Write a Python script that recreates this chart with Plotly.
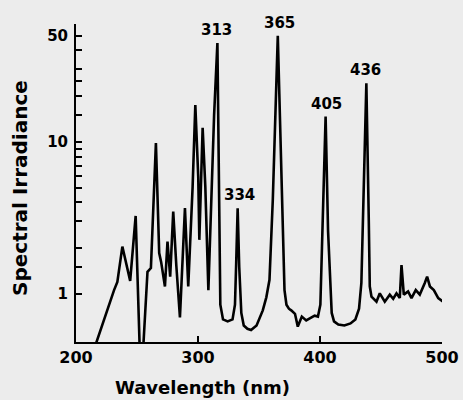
import plotly.graph_objects as go
import math

# Wavelength (nm) and spectral irradiance
wavelength = [215.0, 216.7, 231.2, 233.9, 238.0, 244.4, 248.9, 252.6, 254.4, 258.6,
              261.4, 265.5, 268.2, 269.8, 272.9, 275.0, 277.2, 279.7, 282.2, 285.2,
              289.3, 292.0, 295.6, 297.8, 300.2, 301.1, 303.8, 306.0, 308.5, 313.2,
              315.9, 317.4, 318.3, 320.5, 324.3, 328.3, 330.3, 331.3, 332.5, 333.8,
              335.5, 337.5, 340.5, 343.5, 348.0, 353.1, 356.0, 358.6, 361.3, 365.4,
              369.3, 370.9, 372.5, 374.5, 376.4, 379.5, 381.8, 385.1, 388.7, 392.0,
              395.6, 398.3, 400.3, 401.6, 404.6, 406.6, 407.6, 408.4, 409.6, 411.5,
              415.0, 420.0, 425.0, 429.0, 432.0, 433.9, 438.0, 440.0, 440.8, 442.2,
              446.3, 449.0, 453.1, 457.2, 460.0, 462.7, 465.4, 466.8, 468.7, 472.2,
              475.0, 478.5, 481.8, 485.9, 487.8, 490.1, 493.3, 496.9, 501.0]
irradiance = [0.40, 0.48, 1.06, 1.20, 2.05, 1.22, 3.26, 0.35, 0.35, 1.40,
              1.48, 9.85, 1.86, 1.62, 1.12, 2.21, 1.30, 3.48, 1.55, 0.70,
              3.68, 1.12, 5.08, 17.5, 5.9, 2.27, 12.4, 5.08, 1.06, 15.0,
              44.8, 5.0, 0.85, 0.68, 0.66, 0.68, 0.85, 1.6, 3.66, 1.5,
              0.75, 0.62, 0.59, 0.58, 0.62, 0.78, 0.95, 1.24, 4.15, 49.9,
              4.15, 1.06, 0.85, 0.80, 0.78, 0.74, 0.61, 0.71, 0.67, 0.69,
              0.72, 0.71, 0.85, 2.0, 14.7, 2.6, 1.55, 1.15, 0.75, 0.66,
              0.63, 0.62, 0.64, 0.68, 0.80, 1.18, 24.3, 3.0, 1.12, 0.96,
              0.89, 1.01, 0.89, 0.99, 0.93, 1.01, 0.94, 1.55, 0.99, 1.04,
              0.94, 1.06, 0.99, 1.18, 1.30, 1.12, 1.06, 0.94, 0.89]

peak_labels = ["313", "334", "365", "405", "436"]
peak_label_x = [315.4, 333.9, 366.4, 405.4, 437.5]
peak_value = [44.8, 3.66, 49.9, 14.7, 24.3]

y_tick_vals = [1, 1.5, 2, 3, 4, 5, 6, 7, 8, 9, 10, 15, 20, 25, 30, 40, 50, 60]
y_tick_text = ["1", "", "", "", "", "", "", "", "", "", "10", "", "", "", "", "", "50", ""]
x_tick_vals = [200, 300, 400, 500]

FONT = "DejaVu Sans"
BG = "#ececec"
W, H = 463, 400
L, R, T, B = 76, 21, 24, 58
PW, PH = W - L - R, H - T - B

fig = go.Figure()
fig.add_trace(go.Scatter(x=wavelength, y=irradiance, mode="lines",
                         line=dict(color="black", width=2.6), hoverinfo="skip"))

for lab, x, v in zip(peak_labels, peak_label_x, peak_value):
    fig.add_annotation(x=x, y=math.log10(v), text=lab, showarrow=False,
                       xref="x", yref="y", yanchor="bottom", yshift=2,
                       font=dict(family=FONT, size=15, color="black", weight="bold"))

fig.add_annotation(x=(202 - L) / PW, y=-(387 - (H - B)) / PH,
                   xref="paper", yref="paper", xanchor="center", yanchor="middle",
                   text="Wavelength (nm)", showarrow=False,
                   font=dict(family=FONT, size=18, color="black", weight="bold"))
fig.add_annotation(x=(20 - L) / PW, y=((H - B) - 188) / PH,
                   xref="paper", yref="paper", xanchor="center", yanchor="middle",
                   text="Spectral Irradiance", textangle=-90, showarrow=False,
                   font=dict(family=FONT, size=20, color="black", weight="bold"))

fig.update_layout(
    width=W, height=H,
    margin=dict(l=L, r=R, t=T, b=B),
    paper_bgcolor=BG, plot_bgcolor=BG,
    showlegend=False,
    xaxis=dict(range=[200, 500], tickvals=x_tick_vals, ticks="inside", ticklen=6,
               tickwidth=2, tickcolor="black", showline=True, linecolor="black",
               linewidth=2, showgrid=False, zeroline=False, automargin=False,
               tickfont=dict(family=FONT, size=16, color="black", weight="bold")),
    yaxis=dict(type="log", range=[-0.316, 1.776], tickvals=y_tick_vals,
               ticktext=y_tick_text, ticks="inside", ticklen=6, tickwidth=2,
               tickcolor="black", showline=True, linecolor="black", linewidth=2,
               showgrid=False, zeroline=False, automargin=False,
               ticklabelstandoff=3,
               tickfont=dict(family=FONT, size=15, color="black", weight="bold")),
)

fig.write_html("out.html", config={"displayModeBar": False},
               post_script="document.body.style.margin='0';"
                           "document.body.style.background='" + BG + "';")
